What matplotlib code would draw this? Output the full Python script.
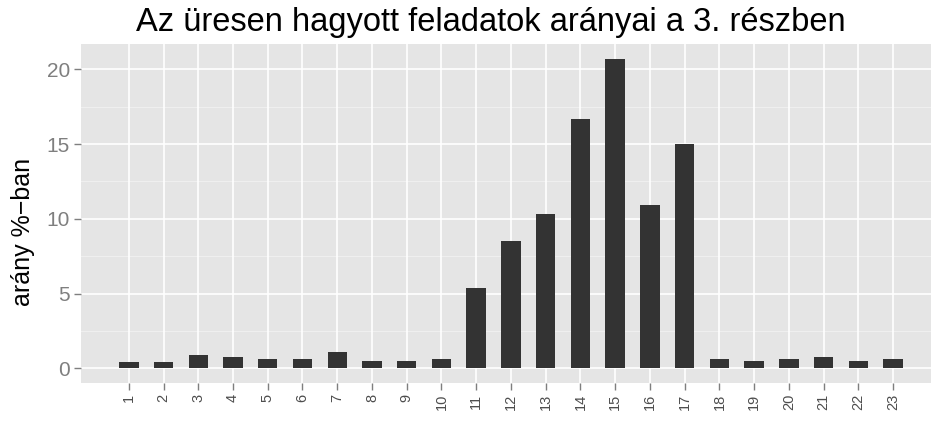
import matplotlib
matplotlib.use("Agg")
import matplotlib.pyplot as plt
import numpy as np

# feladat sorszámok és üresen hagyott arányok (%)
feladatok = [str(i) for i in range(1, 24)]
aranyok = [0.40, 0.40, 0.87, 0.73, 0.62, 0.62, 1.07, 0.51, 0.51, 0.62,
           5.37, 8.5, 10.3, 16.7, 20.7, 10.95, 15.0,
           0.62, 0.51, 0.62, 0.73, 0.51, 0.62]
y_ticks = [0, 5, 10, 15, 20]

plt.rcParams['font.family'] = ['Liberation Sans', 'DejaVu Sans']

fig = plt.figure(figsize=(9.31, 4.23), dpi=100)
ax = fig.add_axes([81 / 931, 1 - 383 / 423, 1 - 81 / 931, (383 - 44) / 423])

ax.set_facecolor('#E5E5E5')
pos = np.arange(1, len(feladatok) + 1)

# minor grid
for v in [2.5, 7.5, 12.5, 17.5]:
    ax.axhline(v, color='#F2F2F2', lw=0.6, zorder=0)
for v in y_ticks:
    ax.axhline(v, color='white', lw=1.2, zorder=0)
for p in pos:
    ax.axvline(p, color='white', lw=1.2, zorder=0)

ax.bar(pos, aranyok, width=0.56, color='#333333', zorder=2)

ax.set_xlim(-0.375, 24.09)
ax.set_ylim(-0.98, 21.69)
ax.set_xticks(pos)
ax.set_xticklabels(feladatok, rotation=90, fontsize=10.5, color='#4D4D4D')
ax.set_yticks(y_ticks)
ax.set_yticklabels([str(t) for t in y_ticks], fontsize=15, color='#7F7F7F')
ax.tick_params(axis='both', length=5, width=1, color='#7F7F7F', pad=3)
for s in ax.spines.values():
    s.set_visible(False)

ax.set_ylabel('arány %\u2212ban', fontsize=18, color='black')
ax.yaxis.set_label_coords(-46 / 850, (383 - 232) / 339)
fig.text(491 / 931, 1 - 22 / 423, 'Az üresen hagyott feladatok arányai a 3. részben',
         ha='center', va='center', fontsize=23.5)

fig.savefig('out.png', dpi=100)
